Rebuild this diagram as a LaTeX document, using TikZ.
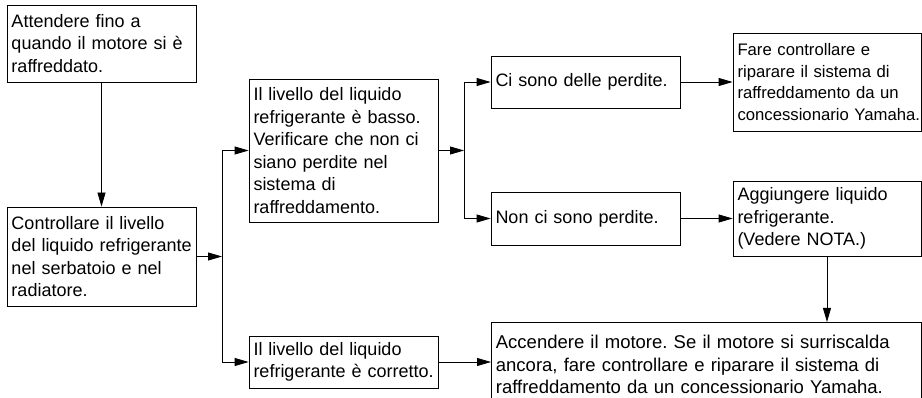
\documentclass[tikz,border=0pt]{standalone}
\usepackage{fontspec}
\setmainfont{Liberation Sans}
\frenchspacing
\usetikzlibrary{arrows.meta}
\tikzset{
  box/.style={draw=black, line width=0.8pt, align=left, inner xsep=4.5pt, inner ysep=0pt,
    font=\fontsize{18}{22.6}\selectfont},
  smallbox/.style={box, font=\fontsize{16.7}{21.8}\selectfont},
  widebox/.style={box, font=\fontsize{18.5}{22.5}\selectfont},
  arr/.style={draw=black, line width=0.8pt, -{Triangle[length=14pt,width=8pt]}},
  ln/.style={draw=black, line width=0.8pt}
}
\begin{document}
\begin{tikzpicture}[x=1pt,y=-1pt]
\useasboundingbox (0,0) rectangle (922,398);
\clip (0,0) rectangle (922,398);
\node[box, minimum width=189pt, minimum height=77pt, text width=180pt] (b1) at (101.5,43.5)
  {\mbox{Attendere fino a}\\\mbox{quando il motore si è}\\\mbox{raffreddato.}};
\node[box, minimum width=189pt, minimum height=99pt, text width=180pt] (b2) at (101.5,256.5)
  {\mbox{Controllare il livello}\\\mbox{del liquido refrigerante}\\\mbox{nel serbatoio e nel}\\\mbox{radiatore.}};
\node[box, minimum width=189pt, minimum height=143pt, text width=180pt] (b3) at (343.5,150.5)
  {\mbox{Il livello del liquido}\\\mbox{refrigerante è basso.}\\\mbox{Verificare che non ci}\\\mbox{siano perdite nel}\\\mbox{sistema di}\\\mbox{raffreddamento.}};
\node[box, minimum width=189pt, minimum height=52pt, text width=180pt] (b4) at (343.5,362)
  {\mbox{Il livello del liquido}\\\mbox{refrigerante è corretto.}};
\node[box, minimum width=189pt, minimum height=52pt, text width=180pt] (b5) at (585.5,82)
  {\mbox{Ci sono delle perdite.}};
\node[box, minimum width=189pt, minimum height=53pt, text width=180pt] (b6) at (585.5,218.5)
  {\mbox{Non ci sono perdite.}};
\node[smallbox, minimum width=188pt, minimum height=98pt, text width=179pt] (b7) at (827,82)
  {\mbox{Fare controllare e}\\\mbox{riparare il sistema di}\\\mbox{raffreddamento da un}\\\mbox{concessionario Yamaha.}};
\node[box, minimum width=188pt, minimum height=75pt, text width=179pt] (b8) at (827,218.5)
  {\mbox{Aggiungere liquido}\\\mbox{refrigerante.}\\\mbox{(Vedere NOTA.)}};
\node[widebox, anchor=north west, inner ysep=13pt, minimum width=430pt, text width=421pt] (b9) at (491,322)
  {\mbox{Accendere il motore. Se il motore si surriscalda}\\\mbox{ancora, fare controllare e riparare il sistema di}\\\mbox{raffreddamento da un concessionario Yamaha.}};
\coordinate (j1) at (222,256.5);
\coordinate (j1t) at (222,150.5);
\coordinate (j1b) at (222,362);
\coordinate (j2) at (464,150.5);
\coordinate (j2t) at (464,82);
\coordinate (j2b) at (464,218.5);
\draw[arr] (b1.south) -- (b2.north);
\draw[arr] (b2.east) -- (j1);
\draw[ln] (j1t) -- (j1b);
\draw[arr] (j1t) -- (b3.west);
\draw[arr] (j1b) -- (b4.west);
\draw[arr] (b3.east) -- (j2);
\draw[ln] (j2t) -- (j2b);
\draw[arr] (j2t) -- (b5.west);
\draw[arr] (j2b) -- (b6.west);
\draw[arr] (b5.east) -- (b7.west);
\draw[arr] (b6.east) -- (b8.west);
\draw[arr] (b8.south) -- (b8.south |- b9.north);
\draw[arr] (b4.east) -- (b4.east -| b9.west);
\end{tikzpicture}
\end{document}
